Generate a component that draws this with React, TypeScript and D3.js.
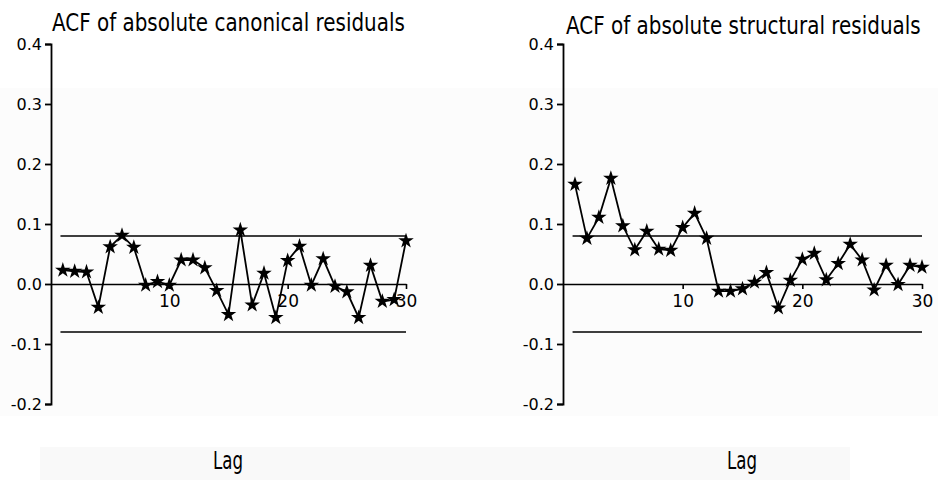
import { useEffect, useRef } from 'react';
import * as d3 from 'd3';

// lags 1..30
const lags = d3.range(1, 31);

const canonicalAcf = [
    0.023, 0.021, 0.020, -0.039, 0.062, 0.081, 0.061, -0.002, 0.004, -0.002,
    0.040, 0.040, 0.027, -0.011, -0.051, 0.090, -0.035, 0.018, -0.056, 0.039,
    0.063, -0.002, 0.042, -0.004, -0.013, -0.056, 0.031, -0.029, -0.026, 0.072
];

const structuralAcf = [
    0.166, 0.076, 0.111, 0.176, 0.097, 0.057, 0.088, 0.058, 0.056, 0.094,
    0.118, 0.076, -0.012, -0.012, -0.008, 0.003, 0.019, -0.040, 0.006, 0.041,
    0.051, 0.007, 0.034, 0.066, 0.040, -0.010, 0.031, -0.001, 0.031, 0.028
];

const yTicks = [-0.2, -0.1, 0.0, 0.1, 0.2, 0.3, 0.4];
const xTicks = [10, 20, 30];
const confLimit = 0.08;

const titles = ['ACF of absolute canonical residuals', 'ACF of absolute structural residuals'];
const xLabel = 'Lag';

const font = 'DejaVu Sans, sans-serif';

// squeeze a text horizontally so it fills width w, starting at x
function squeeze(sel, x, y, w) {
    const len = sel.node().getComputedTextLength() || w;
    sel.attr('x', 0).attr('y', 0)
    .attr('transform', `translate(${x},${y}) scale(${w / len},1)`);
}

export default function App() {
    const ref = useRef(null);

    useEffect(() => {
        const svg = d3.select(ref.current);
        svg.selectAll('*').remove();

        svg.append('rect').attr('width', 938).attr('height', 480).attr('fill', '#ffffff');
        // faint scan tint
        svg.append('rect').attr('x', 0).attr('y', 88).attr('width', 938).attr('height', 328).attr('fill', '#fcfcfc');
        svg.append('rect').attr('x', 40).attr('y', 447).attr('width', 810).attr('height', 33).attr('fill', '#f9f9f9');

        const panels = [
            { data: canonicalAcf, x0: 51, x1: 406, title: titles[0], tx: 52, ty: 31, tw: 353, lagX: 213 },
            { data: structuralAcf, x0: 563, x1: 922, title: titles[1], tx: 566, ty: 34, tw: 355, lagX: 727 },
        ];

        const yScale = d3.scaleLinear().domain([-0.2, 0.4]).range([404, 44]);

        panels.forEach(p => {
            const xScale = d3.scaleLinear().domain([0, 30]).range([p.x0, p.x1]);
            const g = svg.append('g');

            const title = g.append('text')
            .attr('font-family', font)
            .attr('font-size', 24)
            .attr('fill', '#000')
            .text(p.title);
            squeeze(title, p.tx, p.ty, p.tw);

            const yAxis = d3.axisLeft(yScale)
            .tickValues(yTicks)
            .tickSize(6)
            .tickFormat(d => d3.format('.1f')(d).replace('−', '-'));
            const ya = g.append('g')
            .attr('transform', `translate(${p.x0},0)`)
            .call(yAxis)
            .attr('font-size', 16)
            .attr('font-family', font);
            ya.selectAll('path,line').attr('stroke', '#000').attr('stroke-width', 1.8);
            ya.selectAll('.tick text')
            .attr('fill', '#000')
            .attr('x', -9);

            // zero line with lag ticks
            const xAxis = d3.axisBottom(xScale)
            .tickValues(xTicks)
            .tickSize(5)
            .tickSizeOuter(0);
            const xa = g.append('g')
            .attr('transform', `translate(0,${yScale(0)})`)
            .call(xAxis)
            .attr('font-size', 17)
            .attr('font-family', font);
            xa.selectAll('path,line').attr('stroke', '#000').attr('stroke-width', 1.6);
            xa.selectAll('.tick text')
            .attr('fill', '#000')
            .attr('y', 11);

            // confidence bounds
            [confLimit, -confLimit].forEach(c => {
                g.append('line')
                .attr('x1', xScale(0.8))
                .attr('x2', xScale(30))
                .attr('y1', yScale(c))
                .attr('y2', yScale(c))
                .attr('stroke', '#000')
                .attr('stroke-width', 1.6);
            });

            const line = d3.line()
            .x((d, i) => xScale(lags[i]))
            .y(d => yScale(d));

            g.append('path')
            .datum(p.data)
            .attr('d', line)
            .attr('fill', 'none')
            .attr('stroke', '#000')
            .attr('stroke-width', 1.8);

            const star = d3.symbol().type(d3.symbolStar).size(75);
            g.selectAll('.pt')
            .data(p.data)
            .enter()
            .append('path')
            .attr('class', 'pt')
            .attr('transform', (d, i) => `translate(${xScale(lags[i])},${yScale(d)})`)
            .attr('d', star)
            .attr('fill', '#000');

            const lag = g.append('text')
            .attr('font-family', font)
            .attr('font-size', 25)
            .attr('fill', '#000')
            .text(xLabel);
            squeeze(lag, p.lagX, 469, 30);
        });
    }, []);

    return (
        <svg
            ref={ref}
            width={938}
            height={480}
            style={{ position: 'absolute', left: 0, top: 0, display: 'block' }}
        />
    );
}
